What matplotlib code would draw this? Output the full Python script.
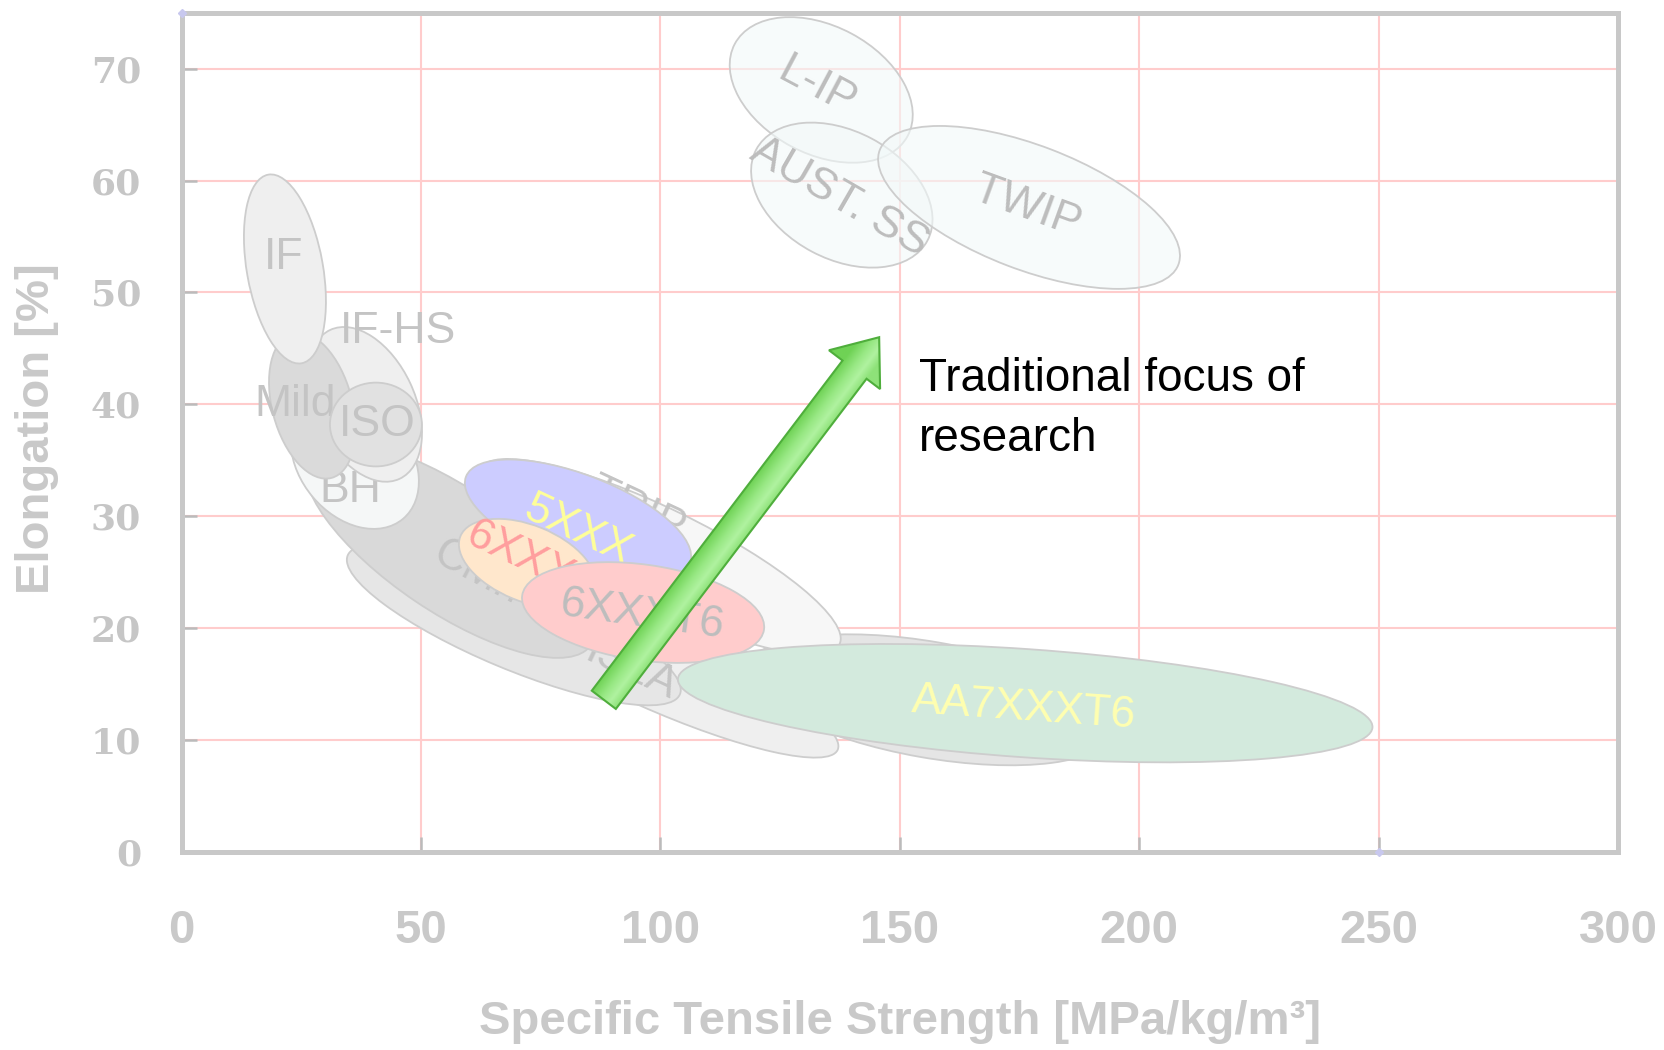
import matplotlib
matplotlib.use("Agg")
import numpy as np
import matplotlib.pyplot as plt
from matplotlib.patches import Ellipse, FancyArrow
from matplotlib.transforms import Affine2D
from matplotlib.colors import LinearSegmentedColormap

# ---------------- data ----------------
materials = ["MART", "DP", "HSLA", "TRIP", "CMn", "BH", "IF-HS", "Mild", "ISO", "IF",
             "5XXX", "6XXX", "6XXXT6", "AA7XXXT6", "L-IP", "AUST. SS", "TWIP"]
# ellipse centres (specific tensile strength, elongation)
center_strength = [156.3, 98.9, 69.4, 99.9, 56.1, 36.2, 38.3, 27.3, 40.6, 21.6,
                   82.8, 72.2, 96.4, 176.2, 133.6, 137.9, 177.0]
center_elong = [13.6, 16.4, 20.3, 26.4, 27.0, 34.9, 40.0, 39.9, 38.2, 52.1,
                29.7, 25.8, 21.4, 13.3, 68.1, 58.7, 57.6]
# ellipse axes (in strength units on an isotropic display scale) and tilt
span_major = [77.3, 83.5, 75.2, 83.5, 71.0, 31.3, 34.3, 31.3, 19.2, 40.0,
              50.1, 30.1, 51.0, 145.4, 40.9, 40.5, 66.8]
span_minor = [24.2, 16.7, 18.4, 20.0, 25.9, 23.0, 20.9, 16.7, 17.5, 15.9,
              18.8, 15.9, 20.0, 22.6, 26.7, 26.7, 25.9]
tilt_deg = [-10, -24, -22.7, -26, -34, 130, 115, 105, 0, 100,
            -21, -22, -8, -4, -28, -28, -21]
# labels
label_text = ["MART", "", "HSLA", "TRIP", "CMn", "BH", "IF-HS", "Mild", "ISO", "IF",
              "5XXX", "6XXX", "6XXXT6", "AA7XXXT6", "L-IP", "AUST. SS", "TWIP"]
label_strength = [150.0, 0, 92.0, 95.1, 61.9, 35.2, 45.2, 23.7, 40.8, 21.3,
                  82.8, 70.7, 96.2, 175.9, 132.7, 137.5, 176.6]
label_elong = [10.8, 0, 16.7, 30.6, 24.9, 32.3, 46.5, 40.0, 38.2, 53.1,
               28.7, 26.4, 21.2, 12.8, 68.4, 58.5, 57.6]
label_rot = [-8, 0, -25, -25, -28, 0, 0, 0, 0, 0,
             -25, -25, -8, -4, -28, -30, -20]

fills = ["#e5e5e5", "#efefef", "#e6e6e6", "#f7f7f7", "#d9d9d9", "#f5f7f7", "#efefef",
         "#dadada", "#e1e1e1", "#efefef", "#ccccff", "#ffe7cc", "#ffcccc", "#d3eadd",
         (0.95, 0.975, 0.975, 0.6), (0.95, 0.975, 0.975, 0.6), (0.95, 0.975, 0.975, 0.6)]
label_colors = ["#c4c4c4"] * 10 + ["#ffff99", "#ff9e9e", "#bdbdbd", "#ffffb0",
                                   "#bdbdbd", "#bdbdbd", "#bdbdbd"]

# stray series markers at the plot edge
marker_strength = [0, 250]
marker_elong = [75, 0]

arrow_start = (88.2, 13.6)
arrow_end = (145.7, 46.0)
annotation = "Traditional focus of\nresearch"

x_ticks = [0, 50, 100, 150, 200, 250, 300]
y_ticks = [0, 10, 20, 30, 40, 50, 60, 70]

# ---------------- figure ----------------
W, H = 1664, 1050
fig = plt.figure(figsize=(W / 100, H / 100), dpi=100)
pos = [181.5 / W, 1 - 852 / H, 1436.5 / W, 839.3 / H]
ax = fig.add_axes(pos)
xmax, ymax = 300, 75

# ratio to make ellipses isotropic in display space
r = (pos[3] * H / ymax) / (pos[2] * W / xmax)
T = Affine2D().scale(1, 1 / r) + ax.transData

for i, name in enumerate(materials):
    z = 2 + i * 0.1
    e = Ellipse((center_strength[i], center_elong[i] * r), span_major[i], span_minor[i],
                angle=tilt_deg[i], transform=T, facecolor=fills[i],
                edgecolor="#cdcdcd", linewidth=1.3, zorder=z)
    ax.add_patch(e)
    if label_text[i]:
        ax.text(label_strength[i], label_elong[i], label_text[i], color=label_colors[i],
                fontsize=32, family=["Liberation Sans", "DejaVu Sans"],
                rotation=label_rot[i], rotation_mode="anchor",
                ha="center", va="center", zorder=z + 0.05)

# arrow with a gradient fill across the shaft
shaft_w = 6.3
u0, v0 = arrow_start[0], arrow_start[1] * r
du, dv = arrow_end[0] - arrow_start[0], (arrow_end[1] - arrow_start[1]) * r
arr = FancyArrow(u0, v0, du, dv, width=shaft_w, head_width=13.4, head_length=8.5,
                 length_includes_head=True, transform=T, facecolor="none",
                 edgecolor="#4fae3c", linewidth=1.5, zorder=10.2)
ax.add_patch(arr)
L = np.hypot(du, dv)
nx, ny = -dv / L, du / L
gx = np.linspace(80, 155, 400)
gy = np.linspace(8, 52, 400)
GX, GY = np.meshgrid(gx, gy)
tt = ((GX - u0) * nx + (GY * r - v0) * ny) / (shaft_w / 2)
cmap = LinearSegmentedColormap.from_list(
    "g", [(0.0, "#8ee279"), (0.3, "#b0f2a0"), (0.6, "#98e884"), (1.0, "#6fd255")])
im = ax.imshow(tt, extent=(80, 155, 8, 52), origin="lower", cmap=cmap, vmin=-1, vmax=1,
               aspect="auto", interpolation="bilinear", zorder=10.1)
im.set_clip_path(arr)

ax.plot(marker_strength, marker_elong, linestyle="none", marker="D", markersize=4,
        color="#c8c8ee", clip_on=False, zorder=21)

ax.set_xlim(0, xmax)
ax.set_ylim(0, ymax)

ax.text(154.0, 44.2, annotation, fontsize=33, color="black",
        family=["Liberation Sans", "DejaVu Sans"], ha="left", va="top",
        linespacing=1.45, zorder=11)

# axes styling
ax.set_xticks(x_ticks)
ax.set_yticks(y_ticks)
ax.set_xticklabels([str(v) for v in x_ticks])
ax.set_yticklabels([str(v) for v in y_ticks])
ax.grid(True, color="#ffcccc", linewidth=1.5)
ax.set_axisbelow(True)
for s in ax.spines.values():
    s.set_color("#c8c8c8")
    s.set_linewidth(3.6)
    s.set_zorder(20)
ax.tick_params(axis="both", direction="in", length=11, width=1.8, color="#bbbbbb")
ax.tick_params(axis="x", pad=41)
ax.tick_params(axis="y", pad=29)
for lab in ax.get_xticklabels():
    lab.set_family(["Liberation Sans", "DejaVu Sans"])
    lab.set_fontweight("bold")
    lab.set_fontsize(34)
    lab.set_color("#c9c9c9")
for lab in ax.get_yticklabels():
    lab.set_family(["DejaVu Serif"])
    lab.set_fontweight("bold")
    lab.set_fontsize(26)
    lab.set_color("#c6c6c6")

ax.set_xlabel("Specific Tensile Strength [MPa/kg/m³]", fontsize=34, fontweight="bold",
              color="#c9c9c9", family=["Liberation Sans", "DejaVu Sans"])
ax.xaxis.set_label_coords(0.5, -0.2026)
ax.xaxis.label.set_va("center")
ax.set_ylabel("Elongation [%]", fontsize=34, fontweight="bold",
              color="#c9c9c9", family=["Liberation Sans", "DejaVu Sans"])
ax.yaxis.set_label_coords(-0.1006, 0.505)
ax.yaxis.label.set_va("center")

fig.savefig("out.png", dpi=100)
